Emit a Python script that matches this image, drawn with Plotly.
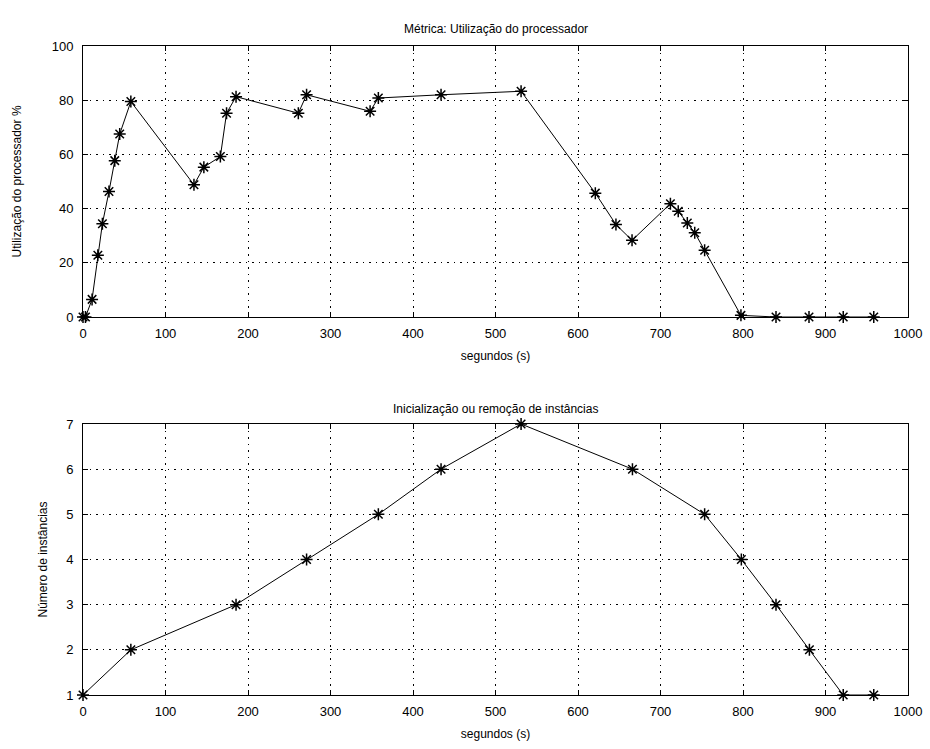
import plotly.graph_objects as go

# Top panel: processor utilisation (%)
cpu_t = [0, 3, 11, 18, 23.5, 31.5, 38.5, 44.5, 58, 134.5, 146.5, 166.5, 174, 185.5,
         261, 271, 348, 358, 434, 531, 621, 646, 665.5, 712, 721.5, 732.5, 741.5,
         753.5, 797.5, 840, 880, 921.5, 958.5]
cpu_u = [0, 0, 6.5, 22.8, 34.4, 46.3, 57.7, 67.5, 79.5, 48.8, 55.3, 59.2, 75.2, 81.3,
         75.2, 82, 75.9, 80.8, 82, 83.3, 45.7, 34.1, 28.3, 41.8, 39, 34.7, 31.1,
         24.6, 0.6, 0, 0, 0, 0]

# Bottom panel: number of instances
inst_t = [0, 58, 185.5, 271, 358, 434, 531, 666, 753.5, 798, 840, 880.5, 921.5, 958.5]
inst_n = [1, 2, 3, 4, 5, 6, 7, 6, 5, 4, 3, 2, 1, 1]

title_top = "Métrica: Utilização do processador"
title_bottom = "Inicialização ou remoção de instâncias"
xlabel = "segundos (s)"
ylabel_top = "Utilização do processador %"
ylabel_bottom = "Número de instâncias"

FONT = "Liberation Sans, Arial, sans-serif"

fig = go.Figure()
common_trace = dict(mode="lines+markers",
                    line=dict(color="black", width=1),
                    marker=dict(symbol="asterisk-open", size=10,
                                line=dict(color="black", width=1.5), color="black"),
                    showlegend=False, cliponaxis=False)
fig.add_trace(go.Scatter(x=cpu_t, y=cpu_u, xaxis="x", yaxis="y", **common_trace))
fig.add_trace(go.Scatter(x=inst_t, y=inst_n, xaxis="x2", yaxis="y2", **common_trace))

ax_common = dict(showline=True, linecolor="black", linewidth=1, mirror="allticks",
                 ticks="inside", ticklen=5, tickcolor="black", automargin=False,
                 showgrid=True, gridcolor="black", gridwidth=1, griddash="1.5px,5px",
                 zeroline=False, tickfont=dict(family=FONT, size=13, color="black"),
                 title_font=dict(family=FONT, size=12, color="black"))

H = 749
t, b = 46, 54
ph = H - t - b
d = 271 / ph

fig.update_layout(
    width=930, height=749,
    margin=dict(l=83, r=22, t=t, b=b),
    paper_bgcolor="white", plot_bgcolor="white",
    font=dict(family=FONT, size=12, color="black"),
    xaxis=dict(domain=[0, 1], range=[0, 1000], dtick=100, tick0=0, anchor="y",
               ticklabelstandoff=4,
               title=dict(text=xlabel, standoff=12), **ax_common),
    yaxis=dict(domain=[1 - d, 1], range=[0, 100], dtick=20, tick0=0, anchor="x",
               ticklabelstandoff=6,
               title=dict(text=ylabel_top, standoff=27), **ax_common),
    xaxis2=dict(domain=[0, 1], range=[0, 1000], dtick=100, tick0=0, anchor="y2",
                ticklabelstandoff=4,
                title=dict(text=xlabel, standoff=12), **ax_common),
    yaxis2=dict(domain=[0, d], range=[1, 7], dtick=1, tick0=1, anchor="x2",
                ticklabelstandoff=6,
                title=dict(text=ylabel_bottom, standoff=15), **ax_common),
    annotations=[
        dict(text=title_top, xref="x", yref="paper", x=500, y=1, yshift=8,
             showarrow=False, yanchor="bottom", font=dict(family=FONT, size=12)),
        dict(text=title_bottom, xref="x2", yref="paper", x=500, y=d, yshift=6,
             showarrow=False, yanchor="bottom", font=dict(family=FONT, size=12)),
    ],
)

fig.write_html("out.html")
